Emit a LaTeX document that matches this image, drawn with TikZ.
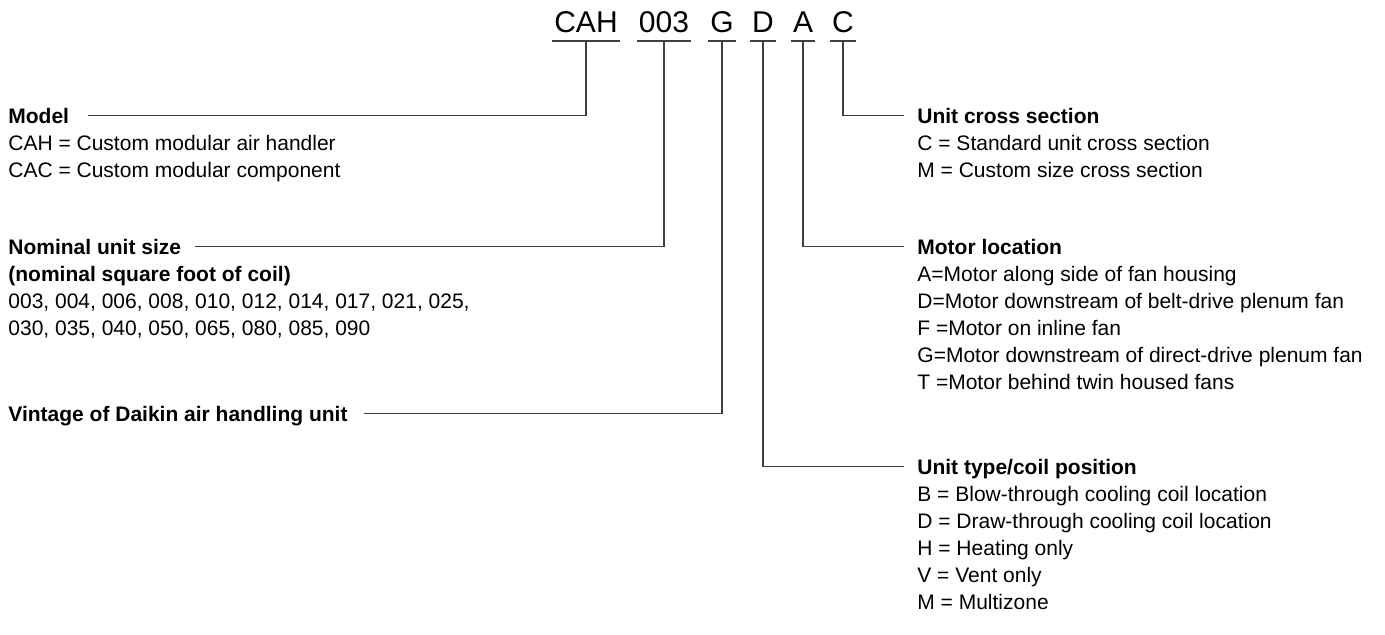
\documentclass[tikz,border=0pt]{standalone}
\usepackage{fontspec}
\setmainfont{Liberation Sans}
\usetikzlibrary{positioning}

\begin{document}
\begin{tikzpicture}[x=0.5pt,y=-0.5pt,
		code/.style={font=\fontsize{15}{15}\selectfont, anchor=base, inner xsep=0.75pt, inner ysep=0pt},
		head/.style={font=\fontsize{10.5}{13.5}\selectfont\bfseries, anchor=base west, inner sep=0pt},
		item/.style={font=\fontsize{10.5}{13.5}\selectfont, anchor=base west, inner sep=0pt},
		lead/.style={line width=0.7pt, draw=black!75}]
		\useasboundingbox (0,0) rectangle (1385,634);

		% The model code along the top
		\node[code] (cah) at (586,32) {CAH};
		\node[code] (size) at (664,32) {003};
		\node[code] (vint) at (722,32) {G};
		\node[code] (type) at (763,32) {D};
		\node[code] (motor) at (803,32) {A};
		\node[code] (cross) at (843,32) {C};

		% Underlines below each part of the code
		\foreach \c in {cah,size,vint,type,motor,cross}
			\draw[lead] ([yshift=-4.5pt]\c.base west) -- ([yshift=-4.5pt]\c.base east);

		% Left column
		\node[head] (model) at (8,123) {Model};
		\node[item] (model1) at (8,150) {CAH = Custom modular air handler};
		\node[item] (model2) at (8,177) {CAC = Custom modular component};

		\node[head] (nom) at (8,254) {Nominal unit size};
		\node[head] (nom1) at (8,281) {(nominal square foot of coil)};
		\node[item] (nom2) at (8,308) {003, 004, 006, 008, 010, 012, 014, 017, 021, 025,};
		\node[item] (nom3) at (8,335) {030, 035, 040, 050, 065, 080, 085, 090};

		\node[head] (vintage) at (8,421) {Vintage of Daikin air handling unit};

		% Right column
		\node[head] (sect) at (917,123) {Unit cross section};
		\node[item] (sect1) at (917,150) {C = Standard unit cross section};
		\node[item] (sect2) at (917,177) {M = Custom size cross section};

		\node[head] (loc) at (917,254) {Motor location};
		\node[item] (loc1) at (917,281) {A=Motor along side of fan housing};
		\node[item] (loc2) at (917,308) {D=Motor downstream of belt-drive plenum fan};
		\node[item] (loc3) at (917,335) {F =Motor on inline fan};
		\node[item] (loc4) at (917,362) {G=Motor downstream of direct-drive plenum fan};
		\node[item] (loc5) at (917,389) {T =Motor behind twin housed fans};

		\node[head] (coil) at (917,474) {Unit type/coil position};
		\node[item] (coil1) at (917,501) {B = Blow-through cooling coil location};
		\node[item] (coil2) at (917,528) {D = Draw-through cooling coil location};
		\node[item] (coil3) at (917,555) {H = Heating only};
		\node[item] (coil4) at (917,582) {V = Vent only};
		\node[item] (coil5) at (917,609) {M = Multizone};

		% Leader lines from the code down to the descriptions
		\draw[lead] ([yshift=-4.5pt]cah.base) |- ([xshift=9.5pt,yshift=3.9pt]model.base east);
		\draw[lead] ([yshift=-4.5pt]size.base) |- ([xshift=7pt,yshift=3.9pt]nom.base east);
		\draw[lead] ([yshift=-4.5pt]vint.base) |- ([xshift=8pt,yshift=3.9pt]vintage.base east);
		\draw[lead] ([yshift=-4.5pt]cross.base) |- ([xshift=-6.5pt,yshift=3.9pt]sect.base west);
		\draw[lead] ([yshift=-4.5pt]motor.base) |- ([xshift=-6.5pt,yshift=3.9pt]loc.base west);
		\draw[lead] ([yshift=-4.5pt]type.base) |- ([xshift=-6.5pt,yshift=3.9pt]coil.base west);
	\end{tikzpicture}
\end{document}
